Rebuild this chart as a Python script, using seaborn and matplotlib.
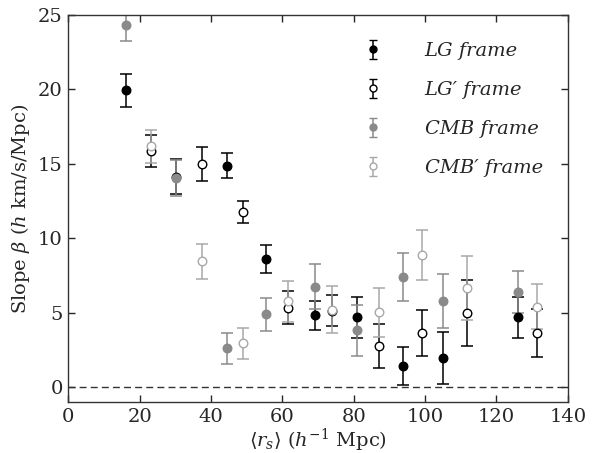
import numpy as np
import pandas as pd
import matplotlib
matplotlib.use("Agg")
import matplotlib.pyplot as plt
import seaborn as sns

# Values
x_unprimed = [16.2, 30.1, 44.5, 55.3, 69.2, 81.0, 93.9, 105.0, 126.1]
lg = [19.95, 14.15, 14.87, 8.61, 4.83, 4.70, 1.43, 1.99, 4.70]
lg_err = [1.10, 1.15, 0.84, 0.94, 1.00, 1.37, 1.28, 1.75, 1.36]
cmb = [24.35, 14.04, 2.62, 4.90, 6.77, 3.82, 7.40, 5.79, 6.40]
cmb_err = [1.10, 1.20, 1.04, 1.12, 1.53, 1.69, 1.59, 1.83, 1.39]

x_primed = [23.3, 37.5, 49.0, 61.7, 73.9, 87.0, 99.1, 111.7, 131.5]
lgp = [15.88, 15.00, 11.78, 5.35, 5.14, 2.78, 3.67, 4.99, 3.62]
lgp_err = [1.07, 1.14, 0.76, 1.12, 1.03, 1.50, 1.54, 2.19, 1.61]
cmbp = [16.17, 8.45, 2.95, 5.79, 5.21, 5.03, 8.88, 6.67, 5.41]
cmbp_err = [1.14, 1.17, 1.05, 1.37, 1.59, 1.65, 1.67, 2.12, 1.50]

labels = ["LG frame", "LG\u2032 frame", "CMB frame", "CMB\u2032 frame"]

series = [
    (x_unprimed, lg, lg_err, labels[0]),
    (x_primed, lgp, lgp_err, labels[1]),
    (x_unprimed, cmb, cmb_err, labels[2]),
    (x_primed, cmbp, cmbp_err, labels[3]),
]
frames = []
for xs, ys, es, lab in series:
    frames.append(pd.DataFrame({"rs": xs, "beta": ys, "err": es, "frame": lab}))
data = pd.concat(frames, ignore_index=True)

sns.set_style("ticks")
plt.rcParams["font.family"] = ["DejaVu Serif"]
plt.rcParams["mathtext.fontset"] = "dejavuserif"

style = {
    labels[0]: dict(color="black", face="black"),
    labels[1]: dict(color="black", face="white"),
    labels[2]: dict(color="#8a8a8a", face="#8a8a8a"),
    labels[3]: dict(color="#a8a8a8", face="white"),
}

fig, ax = plt.subplots(figsize=(5.96, 4.53), dpi=100)
fig.subplots_adjust(left=0.1146, right=0.9525, bottom=0.112, top=0.967)

ax.axhline(0, color="#333333", lw=1.0, ls=(0, (5, 3)), zorder=1)

handles = []
for lab in labels:
    d = data[data["frame"] == lab]
    st = style[lab]
    ax.errorbar(d["rs"], d["beta"], yerr=d["err"], fmt="none",
                ecolor=st["color"], elinewidth=1.1, capsize=4, capthick=1.1,
                zorder=2)
    sns.scatterplot(x=d["rs"], y=d["beta"], ax=ax, marker="o", s=38,
                    facecolor=st["face"], edgecolor=st["color"],
                    linewidth=1.0, legend=False, zorder=3)
    h = ax.errorbar([np.nan], [np.nan], yerr=[1], fmt="o", ms=5,
                    mfc=st["face"], mec=st["color"], mew=1.0,
                    ecolor=st["color"], elinewidth=1.1, capsize=3,
                    capthick=1.1, label=lab)
    handles.append(h)

ax.set_xlim(0, 140)
ax.set_ylim(-1, 25)
ax.set_xticks(np.arange(0, 141, 20))
ax.set_yticks(np.arange(0, 26, 5))
ax.tick_params(direction="in", top=True, right=True, labelsize=14,
               length=5, width=1.0, pad=4)
for sp in ax.spines.values():
    sp.set_linewidth(1.0)
    sp.set_color("#333333")

ax.set_xlabel(r"$\langle r_s \rangle$ ($h^{-1}$ Mpc)", fontsize=14, labelpad=1)
ax.set_ylabel(r"Slope $\beta$ ($h$ km/s/Mpc)", fontsize=14, labelpad=4)

leg = ax.legend(handles=handles, labels=labels, loc="upper right",
                bbox_to_anchor=(0.985, 0.975), frameon=False,
                prop={"style": "italic", "size": 14}, handlelength=1.2,
                handletextpad=2.05, labelspacing=1.08)

fig.savefig("out.png", dpi=100)
